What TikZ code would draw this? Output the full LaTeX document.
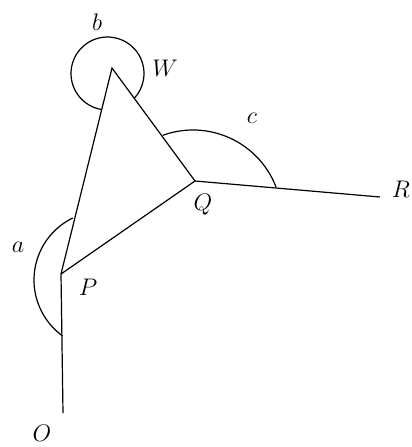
\documentclass[tikz,border=0pt,11pt]{standalone}
\usepackage{amsmath, amssymb}
\usepackage{tikz}
\usetikzlibrary{calc}

\begin{document}
\begin{tikzpicture}[x=0.5pt, y=-0.5pt, line width=0.6pt, every node/.style={font=\large}]
        \useasboundingbox (0,0) rectangle (412,447);
        % Points
        \coordinate (O) at (63,413);
        \coordinate (P) at (61,274);
        \coordinate (W) at (112,68);
        \coordinate (Q) at (195,181);
        \coordinate (R) at (380,197);

        % Lines
        \draw (O) -- (P) -- (W) -- (Q) -- (P);
        \draw (Q) -- (R);

        % Angle a
        \coordinate (ca) at (103,280);
        \draw ($(ca)+(244:69)$) arc[start angle=244, end angle=126, radius=69];
        % Angle b
        \coordinate (cb) at (107.5,73.5);
        \draw ($(cb)+(99:36.5)$) arc[start angle=99, end angle=403, radius=36.5];
        % Angle c
        \coordinate (cc) at (193,219);
        \draw ($(cc)+(250:89)$) arc[start angle=250, end angle=339, radius=89];

        % Labels
        \node (lO) at (42,433) {$O$};
        \node (lP) at (88,287) {$P$};
        \node (lQ) at (203,205) {$Q$};
        \node (lW) at (165,68) {$W$};
        \node (lR) at (401,189) {$R$};
        \node (la) at (18,247) {$a$};
        \node (lb) at (97,22) {$b$};
        \node (lc) at (252,118) {$c$};
    \end{tikzpicture}
\end{document}
